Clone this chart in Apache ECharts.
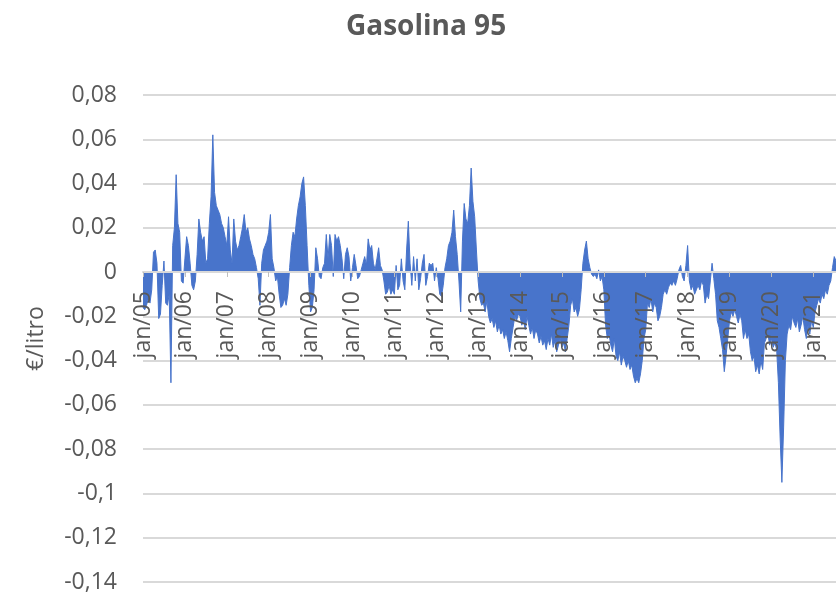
<!DOCTYPE html>
<html>
<head>
<meta charset="utf-8">
<script src="https://cdn.jsdelivr.net/npm/echarts@6/dist/echarts.min.js"></script>
<style>
  html, body { margin: 0; padding: 0; background: #fff; }
  #chart { width: 836px; height: 598px; }
</style>
</head>
<body>
<div id="chart"></div>
<script>
// semi-monthly points, 24 per year, jan/05 .. jul/21
var months = ["jan", "fev", "mar", "abr", "mai", "jun", "jul", "ago", "set", "out", "nov", "dez"];
var years = ["05", "06", "07", "08", "09", "10", "11", "12", "13", "14", "15", "16", "17", "18", "19", "20", "21"];

var v2005 = [-0.016, -0.017, -0.015, -0.012, -0.014, -0.008, 0.009, 0.01, 0.004, -0.021, -0.019, -0.006, 0.005, -0.014, -0.015, -0.01, -0.05, 0.012, 0.02, 0.044, 0.022, 0.018, -0.004, -0.005];
var v2006 = [0.006, 0.016, 0.012, 0.004, -0.006, -0.008, -0.004, 0.008, 0.024, 0.018, 0.014, 0.016, 0.004, 0.006, 0.022, 0.034, 0.062, 0.036, 0.03, 0.028, 0.026, 0.022, 0.02, 0.016];
var v2007 = [0.012, 0.025, 0.01, 0.004, 0.024, 0.014, 0.01, 0.012, 0.016, 0.02, 0.026, 0.018, 0.02, 0.015, 0.012, 0.008, 0.006, 0.002, -0.003, -0.015, 0.004, 0.01, 0.012, 0.014];
var v2008 = [0.018, 0.026, 0.006, 0.002, -0.004, -0.002, -0.01, -0.016, -0.015, -0.012, -0.015, -0.01, 0.002, 0.012, 0.018, 0.016, 0.024, 0.03, 0.034, 0.04, 0.043, 0.03, 0.012, -0.006];
var v2009 = [-0.018, -0.016, -0.008, 0.011, 0.006, -0.002, -0.003, 0.002, 0.004, 0.017, 0.006, 0.017, 0.012, -0.002, 0.017, 0.014, 0.016, 0.012, 0.006, -0.003, 0.008, 0.011, 0.007, -0.004];
var v2010 = [0.002, 0.008, 0.003, -0.003, -0.002, 0.001, 0.004, 0.007, 0.003, 0.015, 0.01, 0.012, 0.004, 0.001, 0.006, 0.011, 0.003, 0.001, -0.004, -0.01, -0.009, -0.006, -0.01, -0.008];
var v2011 = [-0.01, 0.003, -0.008, -0.006, 0.006, -0.004, -0.008, 0.01, 0.023, 0.004, -0.006, 0.007, -0.004, 0.006, -0.008, -0.003, 0.004, 0.008, -0.006, -0.002, 0.004, 0.003, 0.004, -0.004];
var v2012 = [0.002, -0.003, -0.01, -0.011, -0.006, 0.002, 0.006, 0.012, 0.014, 0.018, 0.028, 0.016, 0.008, -0.004, -0.018, 0.014, 0.031, 0.024, 0.022, 0.03, 0.047, 0.032, 0.025, 0.01];
var v2013 = [-0.004, -0.012, -0.015, -0.014, -0.018, -0.013, -0.02, -0.023, -0.021, -0.025, -0.022, -0.027, -0.024, -0.028, -0.026, -0.03, -0.027, -0.031, -0.036, -0.03, -0.025, -0.02, -0.022, -0.019];
var v2014 = [-0.02, -0.024, -0.022, -0.026, -0.02, -0.024, -0.028, -0.025, -0.03, -0.026, -0.028, -0.032, -0.029, -0.033, -0.031, -0.035, -0.03, -0.033, -0.028, -0.034, -0.031, -0.036, -0.033, -0.03];
var v2015 = [-0.034, -0.032, -0.036, -0.03, -0.024, -0.015, -0.012, -0.018, -0.016, -0.02, -0.017, -0.008, 0.004, 0.01, 0.014, 0.006, 0.002, -0.001, -0.002, -0.001, -0.003, 0.001, -0.004, -0.002];
var v2016 = [-0.008, -0.024, -0.03, -0.028, -0.033, -0.036, -0.03, -0.038, -0.04, -0.036, -0.042, -0.038, -0.04, -0.043, -0.04, -0.044, -0.042, -0.047, -0.05, -0.048, -0.05, -0.046, -0.04, -0.03];
var v2017 = [-0.026, -0.014, -0.016, -0.012, -0.018, -0.014, -0.016, -0.022, -0.02, -0.016, -0.01, -0.008, -0.01, -0.007, -0.005, -0.006, -0.004, -0.006, -0.003, 0.001, 0.003, -0.002, -0.004, 0.003];
var v2018 = [0.012, -0.004, -0.008, -0.006, -0.01, -0.008, -0.006, -0.008, -0.004, -0.006, -0.014, -0.01, -0.012, -0.004, 0.004, -0.003, -0.01, -0.022, -0.025, -0.03, -0.035, -0.045, -0.038, -0.03];
var v2019 = [-0.022, -0.018, -0.02, -0.017, -0.02, -0.023, -0.019, -0.022, -0.03, -0.026, -0.03, -0.028, -0.036, -0.04, -0.038, -0.045, -0.042, -0.046, -0.04, -0.044, -0.032, -0.03, -0.028, -0.033];
var v2020 = [-0.03, -0.034, -0.032, -0.035, -0.05, -0.075, -0.095, -0.07, -0.04, -0.028, -0.024, -0.026, -0.02, -0.023, -0.025, -0.021, -0.027, -0.024, -0.02, -0.026, -0.03, -0.024, -0.028, -0.022];
var v2021 = [-0.025, -0.018, -0.015, -0.012, -0.014, -0.01, -0.012, -0.008, -0.01, -0.006, -0.004, 0.002, 0.007, 0.005];

var values = [].concat(v2005, v2006, v2007, v2008, v2009, v2010, v2011, v2012,
  v2013, v2014, v2015, v2016, v2017, v2018, v2019, v2020, v2021);

var categories = [];
for (var i = 0; i < values.length; i++) {
  var y = years[Math.floor(i / 24)];
  var m = months[Math.floor((i % 24) / 2)];
  categories.push((i % 2 === 0 ? "1 " : "16 ") + m + "/" + y);
}

var textColor = "#595959";
var gridColor = "#d9d9d9";
var font = "Open Sans";

var chart = echarts.init(document.getElementById("chart"));
chart.setOption({
  animation: false,
  title: {
    text: "Gasolina 95",
    left: 341,
    top: 8,
    textStyle: { color: textColor, fontSize: 28, fontWeight: "bold", fontFamily: font }
  },
  grid: { left: 143, right: 0, top: 95, bottom: 16, containLabel: false, outerBoundsMode: "none" },
  xAxis: {
    type: "category",
    data: categories,
    boundaryGap: false,
    z: 10,
    // x axis sits on the zero line (-0,14..0 spans 7 of 11 steps)
    offset: -310,
    axisLine: { onZero: false, lineStyle: { color: gridColor, width: 2 } },
    axisTick: {
      show: true,
      length: 5,
      interval: function (idx) { return idx % 24 === 0; },
      lineStyle: { color: "#bfbfbf" }
    },
    axisLabel: {
      rotate: 90,
      margin: 19,
      color: textColor,
      fontSize: 23,
      fontFamily: font,
      interval: function (idx) { return idx % 24 === 0; },
      formatter: function (v) { return v.split(" ")[1]; }
    },
    splitLine: { show: false }
  },
  yAxis: {
    type: "value",
    min: -0.14,
    max: 0.08,
    interval: 0.02,
    name: "€/litro",
    nameLocation: "middle",
    nameGap: 95,
    nameTextStyle: { color: textColor, fontSize: 23, fontFamily: font },
    axisLine: { show: false },
    axisTick: { show: false },
    axisLabel: {
      margin: 26,
      color: textColor,
      fontSize: 23,
      fontFamily: font,
      formatter: function (v) { return String(+v.toFixed(2)).replace(".", ","); }
    },
    splitLine: { lineStyle: { color: gridColor, width: 2 } }
  },
  series: [{
    type: "line",
    data: values,
    symbol: "none",
    lineStyle: { color: "#4874cb", width: 1 },
    areaStyle: { color: "#4874cb", opacity: 1 }
  }]
});
</script>
</body>
</html>
